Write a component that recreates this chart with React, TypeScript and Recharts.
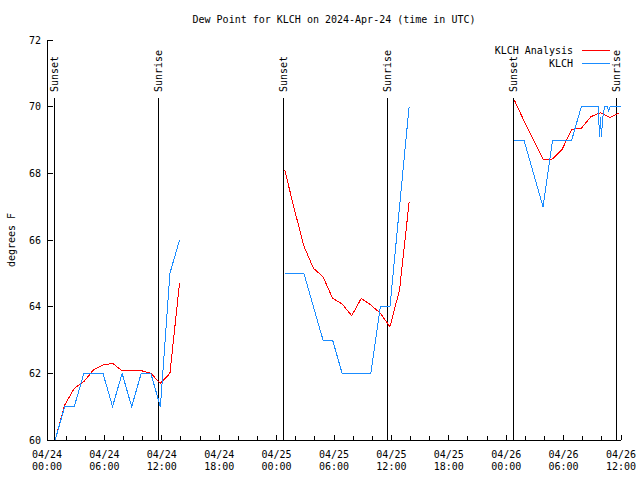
import React from 'react';
import { LineChart, Line, XAxis, YAxis, ReferenceLine, Legend } from 'recharts';

const FONT = '"DejaVu Sans Mono", monospace';
const RED = '#ff0000';
const BLUE = '#1a8cff';

// hours since 2024-04-24 00:00 UTC, null rows break the line between days
const analysisHours = [
  0.85, 1.85, 2.85, 3.85, 4.85, 5.85, 6.85, 7.85, 8.85, 9.85, 10.85, 11.85, 12.85, 13.85, 19,
  24.85, 25.85, 26.85, 27.85, 28.85, 29.85, 30.85, 31.85, 32.85, 33.85, 34.85, 35.85, 36.85, 37.85, 43,
  48.85, 49.85, 50.85, 51.85, 52.85, 53.85, 54.85, 55.85, 56.85, 57.85, 58.85, 59.85,
];
const analysisValues = [
  60.0, 61.05, 61.55, 61.75, 62.1, 62.25, 62.3, 62.08, 62.08, 62.08, 62.0, 61.7, 62.0, 64.7, null,
  68.1, 66.93, 65.82, 65.15, 64.9, 64.25, 64.08, 63.73, 64.25, 64.05, 63.8, 63.4, 64.5, 67.13, null,
  70.2, 69.58, 69.0, 68.42, 68.43, 68.72, 69.32, 69.35, 69.7, 69.82, 69.68, 69.82,
];

const obsHours = [
  0.85, 1.85, 2.85, 3.85, 4.85, 5.85, 6.85, 7.85, 8.85, 9.85, 10.85, 11.85, 12.85, 13.85, 19,
  24.85, 25.85, 26.85, 27.85, 28.85, 29.85, 30.85, 31.85, 32.85, 33.85, 34.85, 35.85, 36.85, 37.85, 43,
  48.85, 49.85, 50.85, 51.85, 52.85, 53.85, 54.85, 55.85, 56.85, 57.63, 57.75, 57.85, 57.95, 58.1,
  58.3, 58.6, 58.7, 58.85, 59.85, 60,
];
const obsValues = [
  60, 61, 61, 62, 62, 62, 61, 62, 61, 62, 62, 61, 65, 66, null,
  65, 65, 65, 64, 63, 63, 62, 62, 62, 62, 64, 64, 67, 70, null,
  69, 69, 68, 67, 69, 69, 69, 70, 70, 70, 69.1, 69.7, 69.1, 69.7,
  70, 70, 69.85, 70, 70, 70,
];

const sunHours = [0.74, 11.62, 24.75, 35.6, 48.77, 59.58];
const sunNames = ['Sunset', 'Sunrise', 'Sunset', 'Sunrise', 'Sunset', 'Sunrise'];

const seriesNames = ['KLCH Analysis', 'KLCH'];
const seriesColors = [RED, BLUE];

const xTicks = [0, 2, 4, 6, 8, 10, 12, 14, 16, 18, 20, 22, 24, 26, 28, 30, 32, 34, 36, 38, 40, 42, 44, 46, 48, 50, 52, 54, 56, 58, 60];
const yTicks = [60, 62, 64, 66, 68, 70, 72];

const analysisData = analysisHours.map((t, i) => ({ t, v: analysisValues[i] }));
const obsData = obsHours.map((t, i) => ({ t, v: obsValues[i] }));

const pad = (n: number) => (n < 10 ? '0' + n : '' + n);

const BottomTick = (props: any) => {
  const { x, y, payload } = props;
  const t = payload.value;
  const major = t % 6 === 0;
  return (
    <g>
      <line x1={x} x2={x} y1={y} y2={y - (major ? 5 : 4)} stroke="#000" shapeRendering="crispEdges" />
      {major && (
        <text x={x} y={y} textAnchor="middle" fontFamily={FONT} fontSize={10} fill="#000">
          <tspan x={x} dy={18}>{'04/' + (24 + Math.floor(t / 24))}</tspan>
          <tspan x={x} dy={12}>{pad(t % 24) + ':00'}</tspan>
        </text>
      )}
    </g>
  );
};

const TopTick = (props: any) => {
  const { x, y, payload } = props;
  const major = payload.value % 6 === 0;
  return <line x1={x} x2={x} y1={y} y2={y + (major ? 5 : 4)} stroke="#000" shapeRendering="crispEdges" />;
};

const LeftTick = (props: any) => {
  const { x, y, payload } = props;
  return (
    <g>
      <line x1={x} x2={x + 6} y1={y} y2={y} stroke="#000" shapeRendering="crispEdges" />
      <text x={x - 6} y={y} dy="0.35em" textAnchor="end" fontFamily={FONT} fontSize={10} fill="#000">
        {payload.value}
      </text>
    </g>
  );
};

const RightTick = (props: any) => {
  const { x, y } = props;
  return <line x1={x} x2={x - 5} y1={y} y2={y} stroke="#000" shapeRendering="crispEdges" />;
};

const SunLabel = (props: any) => {
  const { viewBox, value } = props;
  const x = viewBox.x;
  const y = viewBox.y + 52;
  return (
    <text x={x} y={y} dy="0.35em" transform={`rotate(-90, ${x}, ${y})`} textAnchor="start" fontFamily={FONT} fontSize={10} fill="#000">
      {value}
    </text>
  );
};

const YLabel = (props: any) => {
  const { viewBox } = props;
  const x = viewBox.x + 11;
  const y = viewBox.y + viewBox.height / 2;
  return (
    <text x={x} y={y} dy="0.35em" transform={`rotate(-90, ${x}, ${y})`} textAnchor="middle" fontFamily={FONT} fontSize={10} fill="#000">
      degrees F
    </text>
  );
};

// legend drawn in the gnuplot style: label right-aligned, sample line after it
const renderLegend = () => (
  <div style={{ fontFamily: FONT, fontSize: 10, lineHeight: '13px' }}>
    {seriesNames.map((name, i) => (
      <div key={name} style={{ position: 'relative', height: 13 }}>
        <span style={{ position: 'absolute', right: 48, top: 0, whiteSpace: 'nowrap' }}>{name}</span>
        <span style={{ position: 'absolute', right: 11, top: 6, width: 28, height: 0, borderTop: `1px solid ${seriesColors[i]}` }} />
      </div>
    ))}
  </div>
);

export default function App() {
  return (
    <div style={{ position: 'absolute', left: 0, top: 0, width: 640, height: 480, background: '#fff' }}>
      <div style={{ position: 'absolute', left: 47, top: 13, width: 574, textAlign: 'center', fontFamily: FONT, fontSize: 10, lineHeight: '14px' }}>
        Dew Point for KLCH on 2024-Apr-24 (time in UTC)
      </div>
      <LineChart width={640} height={480} margin={{ top: 40, right: 19, bottom: 0, left: 0 }}>
        <XAxis
          dataKey="t"
          type="number"
          domain={[0, 60]}
          ticks={xTicks}
          interval={0}
          height={40}
          tickSize={0}
          tickMargin={0}
          tickLine={false}
          axisLine={{ stroke: '#000', shapeRendering: 'crispEdges' }}
          tick={<BottomTick />}
          allowDataOverflow
        />
        <XAxis
          xAxisId="top"
          orientation="top"
          dataKey="t"
          type="number"
          domain={[0, 60]}
          ticks={xTicks}
          interval={0}
          height={0}
          tickSize={0}
          tickMargin={0}
          tickLine={false}
          axisLine={{ stroke: '#000', shapeRendering: 'crispEdges' }}
          tick={<TopTick />}
        />
        <YAxis
          type="number"
          domain={[60, 72]}
          ticks={yTicks}
          interval={0}
          width={47}
          tickSize={0}
          tickMargin={0}
          tickLine={false}
          axisLine={{ stroke: '#000', shapeRendering: 'crispEdges' }}
          tick={<LeftTick />}
          label={{ content: <YLabel /> }}
          allowDataOverflow
        />
        <YAxis
          yAxisId="right"
          orientation="right"
          type="number"
          domain={[60, 72]}
          ticks={yTicks}
          interval={0}
          width={0}
          tickSize={0}
          tickMargin={0}
          tickLine={false}
          axisLine={{ stroke: '#000', shapeRendering: 'crispEdges' }}
          tick={<RightTick />}
        />
        {sunHours.map((t, i) => (
          <ReferenceLine
            key={'sun' + i}
            segment={[{ x: t, y: 70.25 }, { x: t, y: 60 }]}
            stroke="#000"
            strokeWidth={1}
            shapeRendering="crispEdges"
          />
        ))}
        {sunHours.map((t, i) => (
          <ReferenceLine key={'sunlab' + i} x={t} stroke="none" label={{ value: sunNames[i], content: <SunLabel /> }} />
        ))}
        <Line
          data={analysisData}
          dataKey="v"
          name={seriesNames[0]}
          type="linear"
          stroke={RED}
          strokeWidth={1}
          dot={false}
          isAnimationActive={false}
          shapeRendering="crispEdges"
        />
        <Line
          data={obsData}
          dataKey="v"
          name={seriesNames[1]}
          type="linear"
          stroke={BLUE}
          strokeWidth={1}
          dot={false}
          isAnimationActive={false}
          shapeRendering="crispEdges"
        />
        <Legend
          layout="vertical"
          align="center"
          verticalAlign="middle"
          content={renderLegend}
          wrapperStyle={{ top: 43.5, left: 420, width: 201 }}
        />
      </LineChart>
    </div>
  );
}
